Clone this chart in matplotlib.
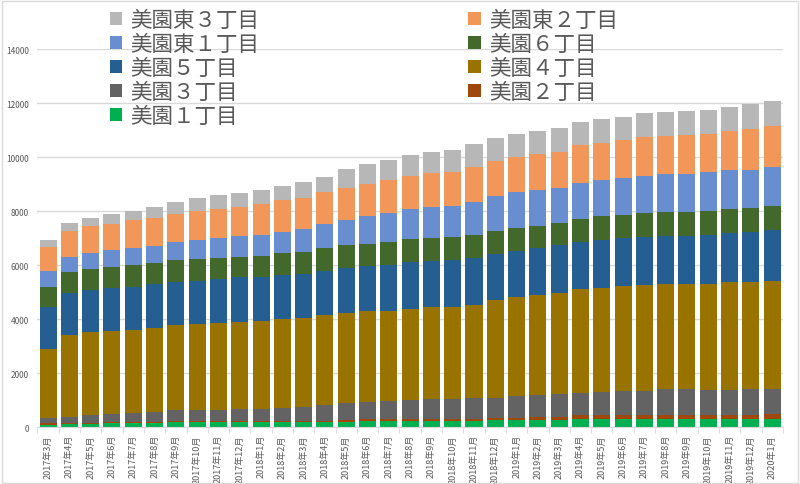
import matplotlib
matplotlib.use('Agg')
import matplotlib.pyplot as plt
import numpy as np
from matplotlib.patches import Rectangle

plt.rcParams['font.family'] = ['Noto Sans CJK JP', 'DejaVu Sans']

# 月ラベル (2017年3月〜2020年1月)
months = ['%d年%d月' % (2017 + (m - 1) // 12, (m - 1) % 12 + 1) for m in range(3, 38)]

# 各丁目の人口
mizono1 = [100, 110, 130, 150, 150, 160, 190, 190, 190, 190, 190, 210, 210, 210, 210, 245, 240, 250,
           250, 250, 250, 260, 280, 285, 285, 310, 310, 320, 320, 320, 320, 320, 320, 320, 320]
mizono2 = [50, 50, 40, 30, 40, 50, 50, 50, 50, 50, 50, 40, 40, 40, 60, 60, 60, 60,
           60, 60, 70, 70, 80, 110, 110, 135, 135, 150, 150, 150, 150, 150, 150, 150, 160]
mizono3 = [190, 230, 300, 315, 340, 370, 400, 415, 415, 430, 445, 470, 500, 590, 630, 645, 680, 710,
           740, 740, 770, 770, 780, 815, 855, 840, 865, 880, 890, 930, 930, 905, 915, 930, 940]
mizono4 = [2560, 3030, 3050, 3075, 3080, 3090, 3130, 3175, 3210, 3235, 3245, 3300, 3295, 3315, 3340,
           3340, 3340, 3370, 3400, 3400, 3425, 3610, 3670, 3680, 3710, 3825, 3860, 3870, 3920, 3920,
           3920, 3945, 3995, 3980, 4010]
mizono5 = [1560, 1560, 1570, 1570, 1600, 1615, 1600, 1600, 1630, 1645, 1645, 1610, 1620, 1645, 1650,
           1670, 1680, 1720, 1700, 1735, 1755, 1710, 1720, 1730, 1770, 1755, 1760, 1780, 1770, 1770,
           1755, 1810, 1810, 1835, 1855]
mizono6 = [740, 750, 765, 800, 780, 790, 805, 800, 780, 750, 765, 815, 805, 820, 840, 830, 855, 855,
           840, 840, 830, 830, 840, 840, 840, 840, 875, 840, 865, 875, 890, 875, 890, 890, 905]
higashi1 = [600, 580, 585, 620, 655, 645, 665, 690, 730, 780, 780, 790, 880, 890, 950, 1040, 1075, 1115,
            1160, 1175, 1250, 1320, 1330, 1320, 1300, 1350, 1350, 1400, 1375, 1400, 1400, 1425, 1430,
            1430, 1445]
higashi2 = [880, 940, 1000, 975, 1015, 1040, 1065, 1080, 1065, 1090, 1135, 1165, 1150, 1200, 1190,
            1175, 1225, 1235, 1265, 1265, 1300, 1300, 1310, 1330, 1335, 1375, 1360, 1385, 1435, 1420,
            1470, 1430, 1460, 1510, 1525]
higashi3 = [270, 320, 290, 365, 340, 405, 435, 470, 510, 500, 525, 520, 570, 570, 690, 755, 745, 755,
            790, 790, 830, 830, 840, 840, 865, 865, 890, 865, 890, 880, 855, 880, 880, 905, 925]

series = [
    ('美園１丁目', mizono1, '#00B050'),
    ('美園２丁目', mizono2, '#9E480E'),
    ('美園３丁目', mizono3, '#636363'),
    ('美園４丁目', mizono4, '#997300'),
    ('美園５丁目', mizono5, '#255E91'),
    ('美園６丁目', mizono6, '#43682B'),
    ('美園東１丁目', higashi1, '#698ED0'),
    ('美園東２丁目', higashi2, '#F1975A'),
    ('美園東３丁目', higashi3, '#B7B7B7'),
]

fig = plt.figure(figsize=(8, 4.85), dpi=100)
ax = fig.add_axes([0.0468, 0.1169, 0.9317, 0.7800])

x = np.arange(len(months))
bottom = np.zeros(len(months))
bars = {}
for name, vals, col in series:
    bars[name] = ax.bar(x, vals, 0.8, bottom=bottom, color=col, label=name, zorder=2)
    bottom += np.array(vals)

ax.set_xlim(-0.5, len(months) - 0.5)
ax.set_ylim(0, 14000)
ax.set_yticks(range(0, 14001, 2000))
ax.grid(axis='y', color='#D9D9D9', lw=1, zorder=0)
for s in ['top', 'right', 'left']:
    ax.spines[s].set_visible(False)
ax.spines['bottom'].set_color('#D9D9D9')

ax.set_xticks(x)
ax.set_xticklabels(months, rotation=90, fontsize=6.5, color='#595959')
ax.set_xticks(np.arange(-0.5, len(months), 1), minor=True)
ax.tick_params(axis='x', which='major', length=0, pad=5)
ax.tick_params(axis='x', which='minor', length=4, color='#D9D9D9')
ax.tick_params(axis='y', length=0, labelsize=6, labelcolor='#595959', pad=6)

# 凡例（Excel風の並び）
order = ['美園東３丁目', '美園東１丁目', '美園５丁目', '美園３丁目', '美園１丁目',
         '美園東２丁目', '美園６丁目', '美園４丁目', '美園２丁目']
fig.legend([bars[n] for n in order], order, loc='upper left', bbox_to_anchor=(0.1375, 0.979),
           ncol=2, frameon=False, fontsize=15.5, labelcolor='#595959', handlelength=0.56,
           handleheight=0.56, handletextpad=0.4, columnspacing=9.7, labelspacing=0.09,
           borderpad=0, borderaxespad=0)

fig.patches.append(Rectangle((0.002, 0.003), 0.995, 0.993, transform=fig.transFigure,
                             fill=False, edgecolor='#D9D9D9', lw=1))

fig.savefig('out.png', dpi=100)
